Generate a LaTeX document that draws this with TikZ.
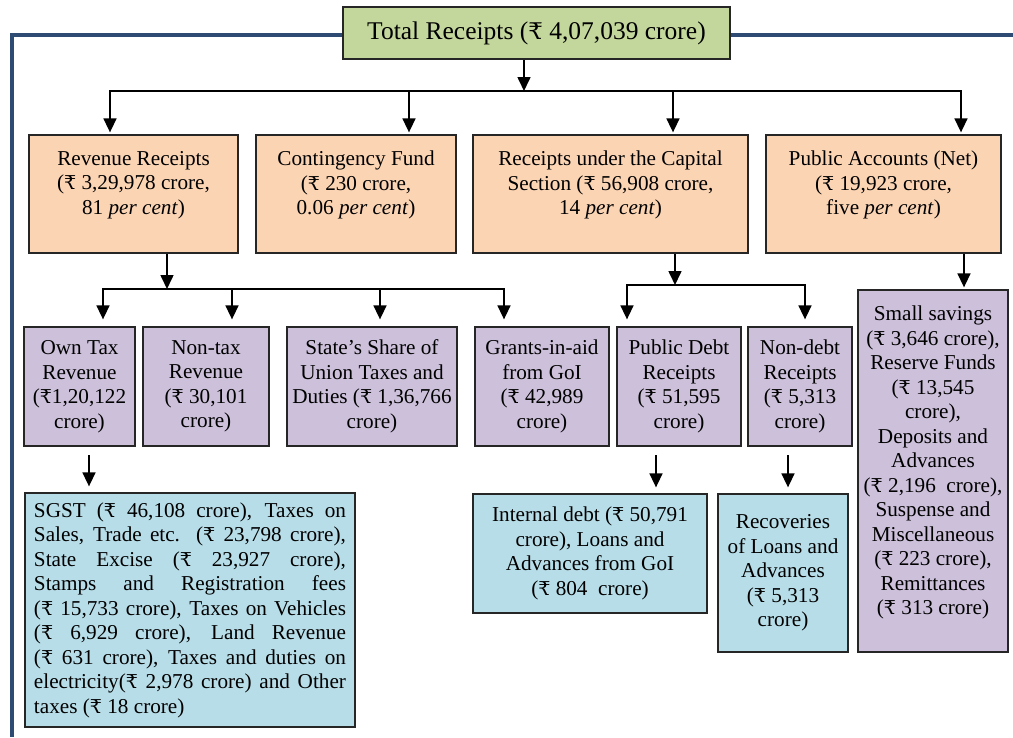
\documentclass[tikz,border=0pt]{standalone}
\usepackage{fontspec}
\setmainfont{Liberation Serif}
\newfontfamily\rupeefont[Scale=0.9]{DejaVu Serif}
\usetikzlibrary{arrows.meta}

\definecolor{framebl}{HTML}{2D4B73}
\definecolor{topgreen}{HTML}{C3D69B}
\definecolor{orfill}{HTML}{FBD4B4}
\definecolor{pufill}{HTML}{CCC0DA}
\definecolor{blfill}{HTML}{B7DDE8}

% rupee sign
\newcommand{\Rs}{{\rupeefont ₹}}
% text pinned to the top of a box
\newcommand{\toptext}[3]{\parbox[c][#2][t]{#1}{\centering #3}}
% one justified line of the SGST box
\newcommand{\jline}[1]{\makebox[312pt][s]{#1}}

\tikzset{
  box/.style={draw=black!85, line width=1.3pt, inner sep=0pt, align=center,
    font=\fontsize{21.2}{24.5}\selectfont},
  obox/.style={box, fill=orfill, minimum height=118pt},
  pbox/.style={box, fill=pufill, minimum height=119pt},
  bbox/.style={box, fill=blfill},
  frame/.style={framebl, line width=3.5pt},
  bus/.style={line width=1.6pt},
  arr/.style={line width=1.6pt, -{Triangle[length=14pt,width=13pt]}}
}

\begin{document}
\begin{tikzpicture}[x=1pt, y=-1pt]
\useasboundingbox (0,0) rectangle (1013,737);

% Frame
\coordinate (frameL) at (12,35);
\coordinate (frameR) at (1013,35);

% Title
\node[box, fill=topgreen, line width=2.4pt, minimum width=387pt, minimum height=52pt,
  font=\fontsize{25.5}{30}\selectfont] (total) at (536.5,33) {Total Receipts (\Rs{} 4,07,039 crore)};

\draw[frame] (total.west |- frameL) -- (frameL) -- (12,737);
\draw[frame] (total.east |- frameR) -- (frameR);

% First level
\node[obox, minimum width=209pt] (rr) at (133.5,194)
  {\toptext{200pt}{86pt}{Revenue Receipts\\(\Rs{} 3,29,978 crore,\\81 \textit{per cent})}};
\node[obox, minimum width=200pt] (cf) at (356,194)
  {\toptext{190pt}{86pt}{Contingency Fund\\(\Rs{} 230 crore,\\0.06 \textit{per cent})}};
\node[obox, minimum width=275pt] (cap) at (610.5,194)
  {\toptext{265pt}{86pt}{Receipts under the Capital\\Section (\Rs{} 56,908 crore,\\14 \textit{per cent})}};
\node[obox, minimum width=235pt] (pa) at (883.5,194)
  {\toptext{225pt}{86pt}{Public Accounts (Net)\\(\Rs{} 19,923 crore,\\five \textit{per cent})}};

% Second level
\node[pbox, minimum width=111pt] (own) at (79.5,386.5) {Own Tax\\Revenue\\(\Rs{}1,20,122\\crore)};
\node[pbox, minimum width=126pt] (nontax) at (206,386.5) {Non-tax\\Revenue\\(\Rs{} 30,101\\crore)};
\node[pbox, minimum width=170pt] (share) at (372,386.5) {State’s Share of\\Union Taxes and\\Duties (\Rs{} 1,36,766\\crore)};
\node[pbox, minimum width=134pt] (grants) at (542,386.5) {Grants-in-aid\\from GoI\\(\Rs{} 42,989\\crore)};
\node[pbox, minimum width=124pt] (pdebt) at (679,386.5) {Public Debt\\Receipts\\(\Rs{} 51,595\\crore)};
\node[pbox, minimum width=104pt] (ndebt) at (800,386.5) {Non-debt\\Receipts\\(\Rs{} 5,313\\crore)};
\node[box, fill=pufill, minimum width=150pt, minimum height=362pt] (pacc) at (933,471)
  {\toptext{148pt}{330pt}{Small savings\\(\Rs{} 3,646 crore),\\Reserve Funds\\(\Rs{} 13,545\\crore),\\Deposits and\\Advances\\(\Rs{} 2,196 \ crore),\\Suspense and\\Miscellaneous\\(\Rs{} 223 crore),\\Remittances\\(\Rs{} 313 crore)}};

% Third level
\node[bbox, minimum width=330pt, minimum height=234pt, align=left] (sgst) at (190,610)
  {\jline{SGST (\Rs{} 46,108 crore), Taxes on}\\
   \jline{Sales, Trade etc. (\Rs{} 23,798 crore),}\\
   \jline{State Excise (\Rs{} 23,927 crore),}\\
   \jline{Stamps and Registration fees}\\
   \jline{(\Rs{} 15,733 crore), Taxes on Vehicles}\\
   \jline{(\Rs{} 6,929 crore), Land Revenue}\\
   \jline{(\Rs{} 631 crore), Taxes and duties on}\\
   \jline{electricity(\Rs{} 2,978 crore) and Other}\\
   \makebox[312pt][l]{taxes (\Rs{} 18 crore)}};
\node[bbox, minimum width=234pt, minimum height=119pt] (intdebt) at (590,553.5)
  {Internal debt (\Rs{} 50,791\\crore), Loans and\\Advances from GoI\\(\Rs{} 804 \ crore)};
\node[bbox, minimum width=130pt, minimum height=158pt] (recov) at (783,573)
  {Recoveries\\of Loans and\\Advances\\(\Rs{} 5,313\\crore)};

% Connectors, first level
\coordinate (t0) at (524,91);
\coordinate (b1) at (110,91);
\coordinate (b2) at (409,91);
\coordinate (b3) at (673,91);
\coordinate (b4) at (961,91);
\draw[arr] (total.south -| t0) -- (t0);
\draw[arr, shorten >=2pt] (t0) -- (b1) -- (b1 |- rr.north);
\draw[arr, shorten >=2pt] (t0) -- (b4) -- (b4 |- pa.north);
\draw[arr, shorten >=2pt] (b2) -- (b2 |- cf.north);
\draw[arr, shorten >=2pt] (b3) -- (b3 |- cap.north);

% Connectors under Revenue Receipts
\coordinate (r0) at (167,289);
\coordinate (s1) at (103,289);
\coordinate (s2) at (232,289);
\coordinate (s3) at (380,289);
\coordinate (s4) at (504,289);
\draw[arr] (rr.south -| r0) -- (r0);
\draw[arr, shorten >=7pt] (r0) -- (s1) -- (s1 |- own.north);
\draw[arr, shorten >=7pt] (r0) -- (s4) -- (s4 |- grants.north);
\draw[arr, shorten >=7pt] (s2) -- (s2 |- nontax.north);
\draw[arr, shorten >=7pt] (s3) -- (s3 |- share.north);

% Connectors under Capital Section
\coordinate (c0) at (675,285);
\coordinate (c1) at (627,285);
\coordinate (c2) at (805,285);
\draw[arr] (cap.south -| c0) -- (c0);
\draw[arr, shorten >=7pt] (c0) -- (c1) -- (c1 |- pdebt.north);
\draw[arr, shorten >=7pt] (c0) -- (c2) -- (c2 |- ndebt.north);

% Connector under Public Accounts
\coordinate (p0) at (964,290);
\draw[arr, shorten >=2pt] (pa.south -| p0) -- (p0 |- pacc.north);

% Third level arrows
\coordinate (o0) at (89,455);
\coordinate (q0) at (656,455);
\coordinate (n0) at (788,455);
\draw[arr, shorten >=6pt] (o0) -- (o0 |- sgst.north);
\draw[arr, shorten >=6pt] (q0) -- (q0 |- intdebt.north);
\draw[arr, shorten >=6pt] (n0) -- (n0 |- recov.north);

\end{tikzpicture}
\end{document}
